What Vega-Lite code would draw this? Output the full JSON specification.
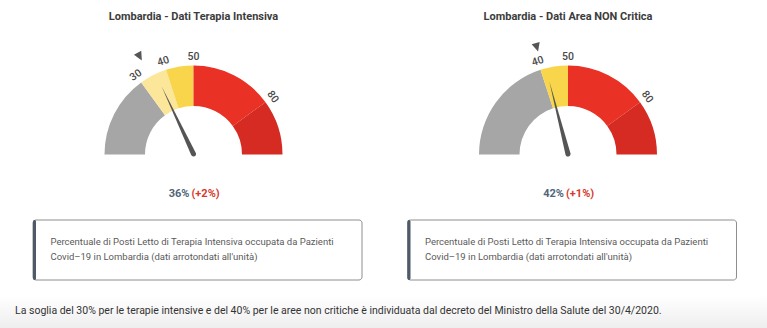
{
  "$schema": "https://vega.github.io/schema/vega-lite/v6.json",
  "width": 767,
  "height": 328,
  "autosize": {"type": "fit", "contains": "padding"},
  "padding": 0,
  "background": "white",
  "config": {
    "view": {"stroke": null},
    "font": "Roboto, sans-serif"
  },
  "datasets": {
    "fasce": [
      {"area": "Terapia Intensiva", "livello": "normale", "inizio": 0, "fine": 30},
      {"area": "Terapia Intensiva", "livello": "soglia", "inizio": 30, "fine": 40},
      {"area": "Terapia Intensiva", "livello": "allerta", "inizio": 40, "fine": 50},
      {"area": "Terapia Intensiva", "livello": "critico", "inizio": 50, "fine": 80},
      {"area": "Terapia Intensiva", "livello": "grave", "inizio": 80, "fine": 100},
      {"area": "Area NON Critica", "livello": "normale", "inizio": 0, "fine": 40},
      {"area": "Area NON Critica", "livello": "allerta", "inizio": 40, "fine": 50},
      {"area": "Area NON Critica", "livello": "critico", "inizio": 50, "fine": 80},
      {"area": "Area NON Critica", "livello": "grave", "inizio": 80, "fine": 100}
    ],
    "tacche": [
      {"area": "Terapia Intensiva", "tacca": 30},
      {"area": "Terapia Intensiva", "tacca": 40},
      {"area": "Terapia Intensiva", "tacca": 50},
      {"area": "Terapia Intensiva", "tacca": 80},
      {"area": "Area NON Critica", "tacca": 40},
      {"area": "Area NON Critica", "tacca": 50},
      {"area": "Area NON Critica", "tacca": 80}
    ],
    "indicatori": [
      {"area": "Terapia Intensiva", "titolo": "Lombardia - Dati Terapia Intensiva", "valore": 36, "precedente": 34, "etichetta": "36%", "variazione": "(+2%)"},
      {"area": "Area NON Critica", "titolo": "Lombardia - Dati Area NON Critica", "valore": 42, "precedente": 41, "etichetta": "42%", "variazione": "(+1%)"}
    ],
    "descrizioni": [
      {"area": "Terapia Intensiva", "riga": 1, "testo": "Percentuale di Posti Letto di Terapia Intensiva occupata da Pazienti"},
      {"area": "Terapia Intensiva", "riga": 2, "testo": "Covid–19 in Lombardia (dati arrotondati all'unità)"},
      {"area": "Area NON Critica", "riga": 1, "testo": "Percentuale di Posti Letto di Terapia Intensiva occupata da Pazienti"},
      {"area": "Area NON Critica", "riga": 2, "testo": "Covid–19 in Lombardia (dati arrotondati all'unità)"}
    ],
    "nota": [
      {"testo": "La soglia del 30% per le terapie intensive e del 40% per le aree non critiche è individuata dal decreto del Ministro della Salute del 30/4/2020."}
    ]
  },
  "resolve": {"scale": {"x": "independent"}},
  "layer": [
    {
      "data": {"values": [{}]},
      "mark": {
        "type": "rect",
        "color": {
          "gradient": "linear", "x1": 0, "y1": 0, "x2": 0, "y2": 1,
          "stops": [{"offset": 0, "color": "#ffffff"}, {"offset": 1, "color": "#eeeeee"}]
        }
      },
      "encoding": {
        "x": {"value": 0}, "x2": {"value": 767},
        "y": {"value": 296}, "y2": {"value": 328}
      }
    },
    {
      "layer": [
        {
          "data": {"name": "fasce"},
          "mark": {"type": "arc", "radius": 89, "radius2": 48.5},
          "encoding": {
            "x": {"field": "area", "type": "nominal", "axis": null,
                  "scale": {"type": "point", "domain": ["Terapia Intensiva", "Area NON Critica"], "range": [193.5, 568], "padding": 0}},
            "y": {"value": 154.5},
            "theta": {"field": "inizio", "type": "quantitative", "stack": null,
                      "scale": {"domain": [0, 100], "range": [-1.5708, 1.5708]}},
            "theta2": {"field": "fine"},
            "color": {"field": "livello", "type": "nominal", "legend": null,
                      "scale": {"domain": ["normale", "soglia", "allerta", "critico", "grave"],
                                "range": ["#a6a6a6", "#fbe69a", "#f8d54a", "#e93125", "#d52b22"]}}
          }
        },
        {
          "data": {"name": "tacche"},
          "mark": {"type": "text", "radius": 98, "fontSize": 10.5, "fontWeight": 500, "color": "#4a4a4a", "align": "center", "baseline": "middle"},
          "encoding": {
            "x": {"field": "area", "type": "nominal"},
            "y": {"value": 154.5},
            "theta": {"field": "tacca", "type": "quantitative", "stack": null},
            "angle": {"field": "tacca", "type": "quantitative", "scale": {"domain": [0, 100], "range": [-90, 90]}},
            "text": {"field": "tacca", "type": "quantitative"}
          }
        },
        {
          "data": {"name": "indicatori"},
          "mark": {"type": "point", "filled": true, "opacity": 1, "color": "#565656",
                   "shape": "M -0.036 -1 L 0.036 -1 L 0 -0.925 Z"},
          "encoding": {
            "x": {"field": "area", "type": "nominal"},
            "y": {"value": 154.5},
            "angle": {"field": "precedente", "type": "quantitative"},
            "size": {"value": 53824}
          }
        },
        {
          "data": {"name": "indicatori"},
          "mark": {"type": "point", "filled": true, "opacity": 1, "color": "#555555",
                   "shape": "M -0.034 0 L 0 -1 L 0.034 0 A 0.034 0.034 0 0 1 -0.034 0 Z"},
          "encoding": {
            "x": {"field": "area", "type": "nominal"},
            "y": {"value": 154},
            "angle": {"field": "valore", "type": "quantitative"},
            "size": {"value": 22500}
          }
        },
        {
          "data": {"name": "indicatori"},
          "mark": {"type": "text", "fontSize": 11, "fontWeight": "bold", "color": "#3c3c3c", "baseline": "middle"},
          "encoding": {
            "x": {"field": "area", "type": "nominal"},
            "y": {"value": 17},
            "text": {"field": "titolo"}
          }
        },
        {
          "data": {"name": "indicatori"},
          "mark": {"type": "text", "fontSize": 11, "fontWeight": "bold", "color": "#50657a", "align": "right", "baseline": "middle", "dx": -4},
          "encoding": {
            "x": {"field": "area", "type": "nominal"},
            "y": {"value": 194},
            "text": {"field": "etichetta"}
          }
        },
        {
          "data": {"name": "indicatori"},
          "mark": {"type": "text", "fontSize": 11, "fontWeight": "bold", "color": "#d63a2e", "align": "left", "baseline": "middle", "dx": -2},
          "encoding": {
            "x": {"field": "area", "type": "nominal"},
            "y": {"value": 194},
            "text": {"field": "variazione"}
          }
        }
      ]
    },
    {
      "data": {"name": "indicatori"},
      "mark": {"type": "rect", "width": 329, "fill": "white", "stroke": "#8e8e8e", "strokeWidth": 1, "cornerRadius": 3},
      "encoding": {
        "x": {"field": "area", "type": "nominal", "axis": null,
              "scale": {"type": "point", "domain": ["Terapia Intensiva", "Area NON Critica"], "range": [197.5, 572], "padding": 0}},
        "y": {"value": 220},
        "y2": {"value": 280}
      }
    },
    {
      "data": {"name": "indicatori"},
      "mark": {"type": "rect", "width": 3, "fill": "#4f5a68", "cornerRadius": 1.5},
      "encoding": {
        "x": {"field": "area", "type": "nominal", "axis": null,
              "scale": {"type": "point", "domain": ["Terapia Intensiva", "Area NON Critica"], "range": [34.5, 409], "padding": 0}},
        "y": {"value": 220},
        "y2": {"value": 280}
      }
    },
    {
      "data": {"name": "descrizioni"},
      "mark": {"type": "text", "fontSize": 9.5, "color": "#5a5a5a", "align": "left", "baseline": "middle"},
      "encoding": {
        "x": {"field": "area", "type": "nominal", "axis": null,
              "scale": {"type": "point", "domain": ["Terapia Intensiva", "Area NON Critica"], "range": [50.5, 425], "padding": 0}},
        "y": {"field": "riga", "type": "ordinal", "axis": null,
              "scale": {"type": "point", "domain": [1, 2], "range": [241.5, 257], "padding": 0}},
        "text": {"field": "testo"}
      }
    },
    {
      "data": {"name": "nota"},
      "mark": {"type": "text", "fontSize": 10.5, "color": "#333333", "align": "left", "baseline": "middle"},
      "encoding": {
        "x": {"value": 15},
        "y": {"value": 311},
        "text": {"field": "testo"}
      }
    }
  ]
}
